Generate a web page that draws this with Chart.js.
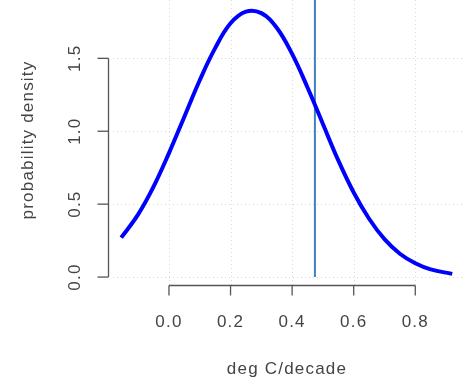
<!DOCTYPE html>
<html>
<head>
<meta charset="utf-8">
<script src="https://cdn.jsdelivr.net/npm/chart.js"></script>
<style>
  html, body { margin: 0; padding: 0; background: #fff; }
  #wrap { width: 463px; height: 379px; }
</style>
</head>
<body>
<div id="wrap"><canvas id="densityChart" width="463" height="379"></canvas></div>
<script>
// values
const xValues = [-0.155, -0.10, -0.05, 0.00, 0.05, 0.10, 0.15, 0.20, 0.25, 0.30, 0.35, 0.40, 0.45, 0.50, 0.55, 0.60, 0.65, 0.70, 0.75, 0.80, 0.85, 0.92];
const densityValues = [0.27, 0.43, 0.62, 0.85, 1.10, 1.35, 1.57, 1.74, 1.82, 1.81, 1.71, 1.53, 1.30, 1.05, 0.80, 0.58, 0.40, 0.26, 0.16, 0.095, 0.053, 0.022];
const markerX = 0.474;
const markerRange = [0.0, 1.9];
const xTicks = [0, 0.2, 0.4, 0.6, 0.8];
const xTickLabels = ['0.0', '0.2', '0.4', '0.6', '0.8'];
const yTicks = [0, 0.5, 1.0, 1.5];
const yTickLabels = ['0.0', '0.5', '1.0', '1.5'];
const xTitle = 'deg C/decade';
const yTitle = 'probability density';

const FONT = '17px "Liberation Sans", Arial, sans-serif';
const TEXT_COLOR = '#444';
const AXIS_COLOR = '#555';

document.addEventListener('DOMContentLoaded', function () {
  const ctx = document.getElementById('densityChart').getContext('2d');

  // R style frame: dotted grid, axes that only span the tick range
  const rAxes = {
    id: 'rAxes',
    beforeDatasetsDraw(chart) {
      const c = chart.ctx;
      const xs = chart.scales.x, ys = chart.scales.y;
      const area = chart.chartArea;
      c.save();
      c.strokeStyle = '#d9d9d9';
      c.lineWidth = 1;
      c.setLineDash([1, 3]);
      xTicks.forEach(v => {
        const px = Math.round(xs.getPixelForValue(v)) + 0.5;
        c.beginPath(); c.moveTo(px, area.top); c.lineTo(px, area.bottom); c.stroke();
      });
      yTicks.forEach(v => {
        const py = Math.round(ys.getPixelForValue(v)) + 0.5;
        c.beginPath(); c.moveTo(area.left + 5, py); c.lineTo(area.right, py); c.stroke();
      });
      c.restore();
    },
    afterDraw(chart) {
      const c = chart.ctx;
      const xs = chart.scales.x, ys = chart.scales.y;
      const area = chart.chartArea;
      c.save();
      c.strokeStyle = AXIS_COLOR;
      c.lineWidth = 1.3;
      c.setLineDash([]);

      // x axis
      const axisY = 285.5;
      const x0 = xs.getPixelForValue(xTicks[0]);
      const x1 = xs.getPixelForValue(xTicks[xTicks.length - 1]);
      c.beginPath(); c.moveTo(x0, axisY); c.lineTo(x1, axisY); c.stroke();
      xTicks.forEach(v => {
        const px = xs.getPixelForValue(v);
        c.beginPath(); c.moveTo(px, axisY); c.lineTo(px, axisY + 10); c.stroke();
      });

      // y axis
      const axisX = area.left + 0.5;
      const y0 = ys.getPixelForValue(yTicks[0]);
      const y1 = ys.getPixelForValue(yTicks[yTicks.length - 1]);
      c.beginPath(); c.moveTo(axisX, y0); c.lineTo(axisX, y1); c.stroke();
      yTicks.forEach(v => {
        const py = ys.getPixelForValue(v);
        c.beginPath(); c.moveTo(axisX, py); c.lineTo(axisX - 11, py); c.stroke();
      });

      c.font = FONT;
      c.fillStyle = TEXT_COLOR;
      c.letterSpacing = '1.2px';
      c.textAlign = 'center';
      c.textBaseline = 'middle';
      xTicks.forEach((v, i) => {
        c.fillText(xTickLabels[i], xs.getPixelForValue(v), 322);
      });
      c.fillText(xTitle, (area.left + area.right + 3) / 2, 369);

      yTicks.forEach((v, i) => {
        c.save();
        c.translate(75, ys.getPixelForValue(v));
        c.rotate(-Math.PI / 2);
        c.fillText(yTickLabels[i], 0, 0);
        c.restore();
      });
      c.save();
      c.translate(28, 140);
      c.rotate(-Math.PI / 2);
      c.fillText(yTitle, 0, 0);
      c.restore();
      c.restore();
    }
  };

  new Chart(ctx, {
    type: 'scatter',
    data: {
      datasets: [{
        label: 'density',
        data: xValues.map((x, i) => ({ x: x, y: densityValues[i] })),
        showLine: true,
        borderColor: '#0000ff',
        borderWidth: 4,
        pointRadius: 0,
        tension: 0.4,
        fill: false
      }, {
        label: 'observed',
        data: markerRange.map(y => ({ x: markerX, y: y })),
        showLine: true,
        borderColor: '#3f80c0',
        borderWidth: 2,
        pointRadius: 0,
        fill: false
      }]
    },
    options: {
      responsive: false,
      animation: false,
      layout: { padding: { left: 108, right: 0, top: 0, bottom: 91 } },
      plugins: { legend: { display: false }, tooltip: { enabled: false } },
      scales: {
        x: { type: 'linear', min: -0.198, max: 0.955, display: false },
        y: { type: 'linear', min: -0.075, max: 1.9, display: false }
      }
    },
    plugins: [rAxes]
  });
});
</script>
</body>
</html>
